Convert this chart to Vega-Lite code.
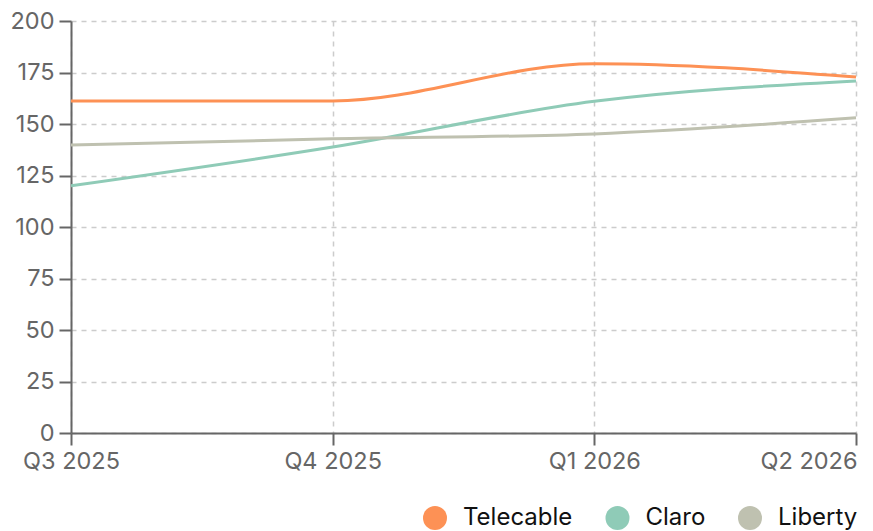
{
  "$schema": "https://vega.github.io/schema/vega-lite/v6.json",
  "width": 785,
  "height": 412,
  "autosize": {"type": "none"},
  "padding": {"left": 71, "top": 21, "right": 17, "bottom": 98},
  "background": "white",
  "config": {
    "font": "Inter",
    "view": {"stroke": null},
    "axis": {
      "labelFont": "Inter",
      "labelFontSize": 23.5,
      "labelColor": "#666666",
      "domainColor": "#666666",
      "domainWidth": 2,
      "tickColor": "#666666",
      "tickWidth": 2,
      "tickSize": 12,
      "gridColor": "#cccccc",
      "gridDash": [5, 5],
      "gridWidth": 1.5,
      "title": null
    },
    "legend": {
      "labelFont": "Inter",
      "labelFontSize": 24,
      "labelColor": "#111111"
    }
  },
  "data": {
    "values": [
      {"quarter": "Q3 2025", "provider": "Telecable", "value": 161.2},
      {"quarter": "Q4 2025", "provider": "Telecable", "value": 161.2},
      {"quarter": "Q1 2026", "provider": "Telecable", "value": 179.3},
      {"quarter": "Q2 2026", "provider": "Telecable", "value": 172.8},
      {"quarter": "Q3 2025", "provider": "Claro", "value": 120.0},
      {"quarter": "Q4 2025", "provider": "Claro", "value": 138.8},
      {"quarter": "Q1 2026", "provider": "Claro", "value": 161.0},
      {"quarter": "Q2 2026", "provider": "Claro", "value": 170.9},
      {"quarter": "Q3 2025", "provider": "Liberty", "value": 139.8},
      {"quarter": "Q4 2025", "provider": "Liberty", "value": 142.8},
      {"quarter": "Q1 2026", "provider": "Liberty", "value": 145.2},
      {"quarter": "Q2 2026", "provider": "Liberty", "value": 153.0}
    ]
  },
  "mark": {"type": "line", "interpolate": "monotone", "strokeWidth": 3},
  "encoding": {
    "x": {
      "field": "quarter",
      "type": "ordinal",
      "sort": ["Q3 2025", "Q4 2025", "Q1 2026", "Q2 2026"],
      "scale": {"type": "point", "padding": 0},
      "axis": {
        "grid": true,
        "labelAngle": 0,
        "labelPadding": 4,
        "labelAlign": {"condition": {"test": "datum.index == 1", "value": "right"}, "value": "center"},
        "labelOffset": {"condition": {"test": "datum.index == 1", "value": 1}, "value": 0}
      }
    },
    "y": {
      "field": "value",
      "type": "quantitative",
      "scale": {"domain": [0, 200], "nice": false},
      "axis": {"values": [0, 25, 50, 75, 100, 125, 150, 175, 200], "grid": true, "labelPadding": 5}
    },
    "color": {
      "field": "provider",
      "type": "nominal",
      "sort": ["Telecable", "Claro", "Liberty"],
      "scale": {"domain": ["Telecable", "Claro", "Liberty"], "range": ["#fd9155", "#8fcbb7", "#bfc1b0"]},
      "legend": {
        "title": null,
        "orient": "none",
        "direction": "horizontal",
        "legendX": 352,
        "legendY": 485,
        "symbolType": "circle",
        "symbolSize": 576,
        "symbolStrokeWidth": 0,
        "symbolOpacity": 1,
        "labelOffset": 16,
        "columnPadding": 32.5,
        "encode": {
          "symbols": {"update": {"fill": {"scale": "color", "field": "value"}, "fillOpacity": {"value": 1}}}
        }
      }
    }
  }
}
